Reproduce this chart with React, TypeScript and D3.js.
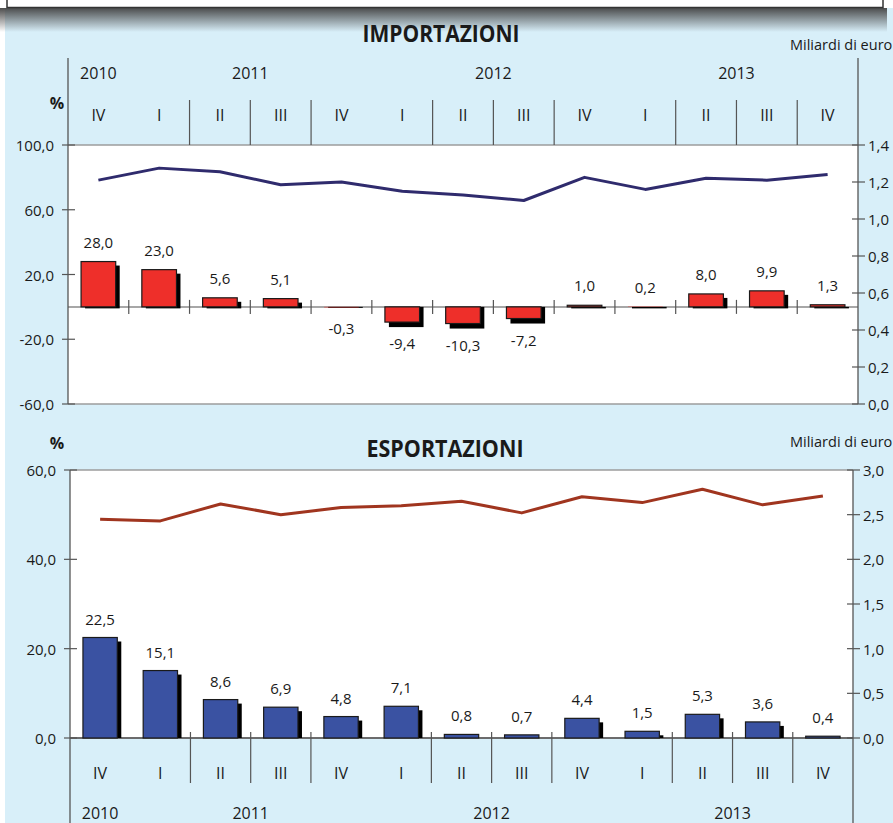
import * as d3 from "d3";

// quarter / year header
const quarters = ["IV", "I", "II", "III", "IV", "I", "II", "III", "IV", "I", "II", "III", "IV"];
const years = ["2010", "2011", "2012", "2013"];
const quartersPerYear = [1, 4, 4, 4];

// % change (bars) and level in billions of euro (line)
const importChange = [28.0, 23.0, 5.6, 5.1, -0.3, -9.4, -10.3, -7.2, 1.0, 0.2, 8.0, 9.9, 1.3];
const importValue = [1.21, 1.275, 1.255, 1.185, 1.2, 1.15, 1.13, 1.1, 1.225, 1.16, 1.22, 1.21, 1.24];
const exportChange = [22.5, 15.1, 8.6, 6.9, 4.8, 7.1, 0.8, 0.7, 4.4, 1.5, 5.3, 3.6, 0.4];
const exportValue = [2.45, 2.43, 2.62, 2.5, 2.58, 2.6, 2.65, 2.52, 2.7, 2.635, 2.785, 2.61, 2.71];

const importPctTicks = [-60, -20, 20, 60, 100];
const importValTicks = [0, 0.2, 0.4, 0.6, 0.8, 1.0, 1.2, 1.4];
const exportPctTicks = [0, 20, 40, 60];
const exportValTicks = [0, 0.5, 1.0, 1.5, 2.0, 2.5, 3.0];

const FONT = "'Open Sans', 'Noto Sans', sans-serif";
const BG = "#d8eff9";
const AXIS = "#555";
const FRAME = "#9c9c9c";

const it = d3.formatLocale({
  decimal: ",",
  thousands: ".",
  grouping: [3],
  currency: ["", " €"],
  minus: "-",
});
const fmt = it.format(".1f");

interface PanelCfg {
  title: string;
  titleX: number;
  titleY: number;
  unitY: number;
  percentY: number;
  x0: number;
  x1: number;
  top: number;
  bottom: number;
  pctDomain: [number, number];
  valDomain: [number, number];
  pctTicks: number[];
  valTicks: number[];
  change: number[];
  value: number[];
  barColor: string;
  lineColor: string;
  headerBelow: boolean;
  shadowExt: number;
}

const panels: PanelCfg[] = [
  {
    title: "IMPORTAZIONI",
    titleX: 441,
    titleY: 33,
    unitY: 44,
    percentY: 103,
    x0: 68,
    x1: 858,
    top: 145,
    bottom: 404,
    pctDomain: [-60, 100],
    valDomain: [0, 1.4],
    pctTicks: importPctTicks,
    valTicks: importValTicks,
    change: importChange,
    value: importValue,
    barColor: "#ee2f2a",
    lineColor: "#2f2b6d",
    headerBelow: false,
    shadowExt: 1.5,
  },
  {
    title: "ESPORTAZIONI",
    titleX: 445,
    titleY: 448,
    unitY: 441,
    percentY: 443,
    x0: 70,
    x1: 853,
    top: 470,
    bottom: 738,
    pctDomain: [0, 60],
    valDomain: [0, 3],
    pctTicks: exportPctTicks,
    valTicks: exportValTicks,
    change: exportChange,
    value: exportValue,
    barColor: "#3a52a2",
    lineColor: "#a0351f",
    headerBelow: true,
    shadowExt: 0,
  },
];

function Panel({ cfg }: { cfg: PanelCfg }) {
  const n = quarters.length;
  const x = d3.scaleBand<number>().domain(d3.range(n)).range([cfg.x0, cfg.x1]);
  const bw = x.bandwidth();
  const barW = bw * 0.57;
  const yPct = d3.scaleLinear().domain(cfg.pctDomain).range([cfg.bottom, cfg.top]);
  const yVal = d3.scaleLinear().domain(cfg.valDomain).range([cfg.bottom, cfg.top]);
  const base = yPct(0);
  const cx = (i: number) => (x(i) ?? 0) + bw / 2;

  const line = d3
    .line<number>()
    .x((_, i) => cx(i))
    .y((v) => yVal(v));

  const yearEnds = d3.cumsum(quartersPerYear);
  const yearStarts = yearEnds.map((e, i) => e - quartersPerYear[i]);
  const edge = (i: number) => cfg.x0 + bw * i;

  // header rows (above the plot for imports, below the zero line for exports)
  const yearRow = cfg.headerBelow ? 813 : 73;
  const quarterRow = cfg.headerBelow ? 773 : 115;
  const yearSep: [number, number] = cfg.headerBelow ? [base - 6, 823] : [58, cfg.top];
  const quarterSep: [number, number] = cfg.headerBelow ? [base - 6, 783] : [100, cfg.top];
  const axisTop = cfg.headerBelow ? cfg.top : 58;
  const axisBottom = cfg.headerBelow ? 823 : cfg.bottom;

  return (
    <g fontFamily={FONT} fill="#1a1a1a">
      <rect x={cfg.x0} y={cfg.top} width={cfg.x1 - cfg.x0} height={cfg.bottom - cfg.top} fill="#fff" />
      <line x1={cfg.x0} x2={cfg.x1} y1={cfg.top} y2={cfg.top} stroke={FRAME} strokeWidth={1.5} />
      <line x1={cfg.x0} x2={cfg.x1} y1={cfg.bottom} y2={cfg.bottom} stroke={FRAME} strokeWidth={1.5} />

      <text
        x={cfg.titleX}
        y={cfg.titleY}
        textAnchor="middle"
        dominantBaseline="central"
        fontSize={23}
        fontWeight={700}
        textLength={157}
        lengthAdjust="spacingAndGlyphs"
      >
        {cfg.title}
      </text>
      <text x={790} y={cfg.unitY} dominantBaseline="central" fontSize={14.5}>
        Miliardi di euro
      </text>
      <text x={57} y={cfg.percentY} textAnchor="middle" dominantBaseline="central" fontSize={16} fontWeight={700}>
        %
      </text>

      {/* header / table separators */}
      {yearStarts.slice(1).map((s) => (
        <line key={`ys${s}`} x1={edge(s)} x2={edge(s)} y1={yearSep[0]} y2={yearSep[1]} stroke={AXIS} strokeWidth={1.2} />
      ))}
      {d3.range(1, n).filter((i) => !yearStarts.includes(i)).map((i) => (
        <line key={`qs${i}`} x1={edge(i)} x2={edge(i)} y1={quarterSep[0]} y2={quarterSep[1]} stroke={AXIS} strokeWidth={1.2} />
      ))}
      {years.map((yr, k) => (
        <text
          key={yr}
          x={(edge(yearStarts[k]) + edge(yearEnds[k])) / 2}
          y={yearRow}
          textAnchor="middle"
          dominantBaseline="central"
          fontSize={16}
        >
          {yr}
        </text>
      ))}
      {quarters.map((q, i) => (
        <text key={`q${i}`} x={cx(i)} y={quarterRow} textAnchor="middle" dominantBaseline="central" fontSize={16}>
          {q}
        </text>
      ))}

      {/* zero line with ticks at column edges */}
      <line x1={cfg.x0} x2={cfg.x1} y1={base} y2={base} stroke={cfg.headerBelow ? AXIS : "#8a8a8a"} strokeWidth={1.5} />
      {!cfg.headerBelow &&
        d3.range(1, n).map((i) => (
          <line key={`zt${i}`} x1={edge(i)} x2={edge(i)} y1={base - 7} y2={base + 7} stroke={AXIS} strokeWidth={1.2} />
        ))}

      {/* bars with drop shadow */}
      {cfg.change.map((v, i) => {
        const y = yPct(v);
        const h = Math.abs(y - base);
        const left = cx(i) - barW / 2;
        const off = Math.min(4, h);
        let sy: number;
        let sh: number;
        if (v >= 0) {
          sy = y + off;
          sh = Math.max(0, base + cfg.shadowExt - sy);
        } else {
          sy = base;
          sh = h + Math.min(5, h);
        }
        return (
          <g key={`b${i}`}>
            {sh > 0 && <rect x={left + 4} y={sy} width={barW} height={sh} fill="#000" />}
            <rect
              x={left}
              y={Math.min(y, base)}
              width={barW}
              height={h}
              fill={cfg.barColor}
              stroke="#1a1a1a"
              strokeWidth={h >= 1 ? 1.2 : 0}
            />
            <text
              x={cx(i)}
              y={v >= 0 ? y - (cfg.headerBelow ? 19 : 20) : y + 21}
              textAnchor="middle"
              dominantBaseline="central"
              fontSize={15}
            >
              {fmt(v)}
            </text>
          </g>
        );
      })}

      <path d={line(cfg.value) ?? ""} fill="none" stroke={cfg.lineColor} strokeWidth={3} strokeLinejoin="round" />

      {/* left axis */}
      <line x1={cfg.x0} x2={cfg.x0} y1={axisTop} y2={axisBottom} stroke={AXIS} strokeWidth={1.3} />
      {cfg.pctTicks.map((t) => (
        <g key={`lt${t}`}>
          <line x1={cfg.x0 - 6} x2={cfg.x0 + 7} y1={yPct(t)} y2={yPct(t)} stroke={AXIS} strokeWidth={1.2} />
          <text x={cfg.x0 - 14} y={yPct(t)} textAnchor="end" dominantBaseline="central" fontSize={15}>
            {fmt(t)}
          </text>
        </g>
      ))}

      {/* right axis */}
      <line x1={cfg.x1} x2={cfg.x1} y1={axisTop} y2={axisBottom} stroke={AXIS} strokeWidth={1.3} />
      {cfg.valTicks.map((t) => (
        <g key={`rt${t}`}>
          <line x1={cfg.x1 - 6} x2={cfg.x1 + 7} y1={yVal(t)} y2={yVal(t)} stroke={AXIS} strokeWidth={1.2} />
          <text x={cfg.x1 + 10} y={yVal(t)} dominantBaseline="central" fontSize={15}>
            {fmt(t)}
          </text>
        </g>
      ))}
    </g>
  );
}

export default function App() {
  const width = 893;
  const height = 823;
  return (
    <svg
      width={width}
      height={height}
      viewBox={`0 0 ${width} ${height}`}
      style={{ position: "absolute", left: 0, top: 0, display: "block" }}
    >
      <defs>
        <linearGradient id="top-shadow" x1="0" x2="0" y1="0" y2="1">
          <stop offset="0%" stopColor="#444" stopOpacity={0.95} />
          <stop offset="100%" stopColor="#444" stopOpacity={0} />
        </linearGradient>
      </defs>
      <rect width={width} height={height} fill="#fff" />
      <rect x={5} y={8} width={width - 5} height={height - 8} fill={BG} />
      <rect x={0} y={8} width={887} height={24} fill="url(#top-shadow)" />
      <rect x={7} y={-4} width={876} height={11.5} fill="#fff" stroke="#333" strokeWidth={1.5} />
      {panels.map((p) => (
        <Panel key={p.title} cfg={p} />
      ))}
    </svg>
  );
}
